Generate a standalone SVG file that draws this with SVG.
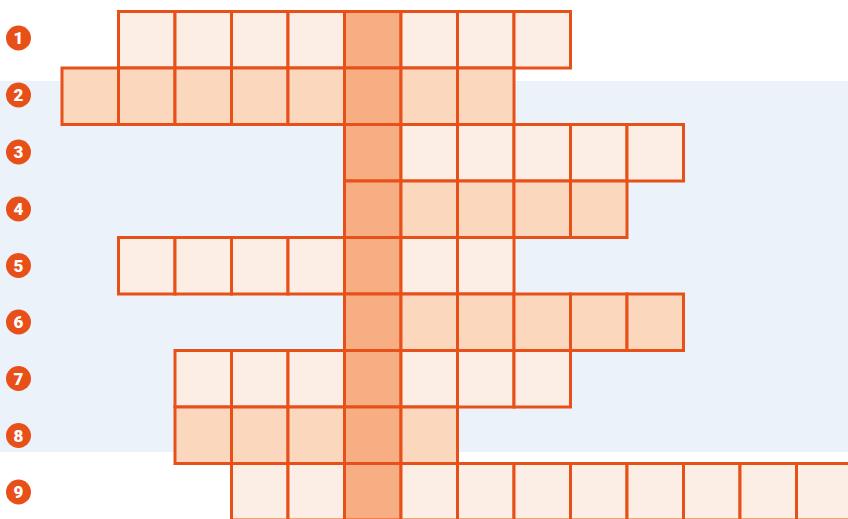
<svg xmlns="http://www.w3.org/2000/svg" width="848" height="519" viewBox="0 0 848 519">
<style>
.c{stroke:#E8501A;stroke-width:3}
.l{fill:#FDEEE5}
.d{fill:#FBD7BE}
.h{fill:#F7AE82}
.n circle{fill:#E8501A}
.n text{fill:#fff;font-family:"Roboto","Liberation Sans",sans-serif;font-weight:900;font-size:17px;text-anchor:middle}
</style>
<rect width="848" height="519" fill="#fff"/>
<rect x="0" y="81" width="848" height="371" fill="#EBF2FA"/>
<g id="row1">
<rect class="c l" x="118.5" y="11.5" width="56.5" height="56.5"/><rect class="c l" x="175" y="11.5" width="56.5" height="56.5"/><rect class="c l" x="231.5" y="11.5" width="56.5" height="56.5"/><rect class="c l" x="288" y="11.5" width="56.5" height="56.5"/><rect class="c h" x="344.5" y="11.5" width="56.5" height="56.5"/><rect class="c l" x="401" y="11.5" width="56.5" height="56.5"/><rect class="c l" x="457.5" y="11.5" width="56.5" height="56.5"/><rect class="c l" x="514" y="11.5" width="56.5" height="56.5"/>
</g>
<g id="row2">
<rect class="c d" x="62" y="68" width="56.5" height="56.5"/><rect class="c d" x="118.5" y="68" width="56.5" height="56.5"/><rect class="c d" x="175" y="68" width="56.5" height="56.5"/><rect class="c d" x="231.5" y="68" width="56.5" height="56.5"/><rect class="c d" x="288" y="68" width="56.5" height="56.5"/><rect class="c h" x="344.5" y="68" width="56.5" height="56.5"/><rect class="c d" x="401" y="68" width="56.5" height="56.5"/><rect class="c d" x="457.5" y="68" width="56.5" height="56.5"/>
</g>
<g id="row3">
<rect class="c h" x="344.5" y="124.5" width="56.5" height="56.5"/><rect class="c l" x="401" y="124.5" width="56.5" height="56.5"/><rect class="c l" x="457.5" y="124.5" width="56.5" height="56.5"/><rect class="c l" x="514" y="124.5" width="56.5" height="56.5"/><rect class="c l" x="570.5" y="124.5" width="56.5" height="56.5"/><rect class="c l" x="627" y="124.5" width="56.5" height="56.5"/>
</g>
<g id="row4">
<rect class="c h" x="344.5" y="181" width="56.5" height="56.5"/><rect class="c d" x="401" y="181" width="56.5" height="56.5"/><rect class="c d" x="457.5" y="181" width="56.5" height="56.5"/><rect class="c d" x="514" y="181" width="56.5" height="56.5"/><rect class="c d" x="570.5" y="181" width="56.5" height="56.5"/>
</g>
<g id="row5">
<rect class="c l" x="118.5" y="237.5" width="56.5" height="56.5"/><rect class="c l" x="175" y="237.5" width="56.5" height="56.5"/><rect class="c l" x="231.5" y="237.5" width="56.5" height="56.5"/><rect class="c l" x="288" y="237.5" width="56.5" height="56.5"/><rect class="c h" x="344.5" y="237.5" width="56.5" height="56.5"/><rect class="c l" x="401" y="237.5" width="56.5" height="56.5"/><rect class="c l" x="457.5" y="237.5" width="56.5" height="56.5"/>
</g>
<g id="row6">
<rect class="c h" x="344.5" y="294" width="56.5" height="56.5"/><rect class="c d" x="401" y="294" width="56.5" height="56.5"/><rect class="c d" x="457.5" y="294" width="56.5" height="56.5"/><rect class="c d" x="514" y="294" width="56.5" height="56.5"/><rect class="c d" x="570.5" y="294" width="56.5" height="56.5"/><rect class="c d" x="627" y="294" width="56.5" height="56.5"/>
</g>
<g id="row7">
<rect class="c l" x="175" y="350.5" width="56.5" height="56.5"/><rect class="c l" x="231.5" y="350.5" width="56.5" height="56.5"/><rect class="c l" x="288" y="350.5" width="56.5" height="56.5"/><rect class="c h" x="344.5" y="350.5" width="56.5" height="56.5"/><rect class="c l" x="401" y="350.5" width="56.5" height="56.5"/><rect class="c l" x="457.5" y="350.5" width="56.5" height="56.5"/><rect class="c l" x="514" y="350.5" width="56.5" height="56.5"/>
</g>
<g id="row8">
<rect class="c d" x="175" y="407" width="56.5" height="56.5"/><rect class="c d" x="231.5" y="407" width="56.5" height="56.5"/><rect class="c d" x="288" y="407" width="56.5" height="56.5"/><rect class="c h" x="344.5" y="407" width="56.5" height="56.5"/><rect class="c d" x="401" y="407" width="56.5" height="56.5"/>
</g>
<g id="row9">
<rect class="c l" x="231.5" y="463.5" width="56.5" height="56.5"/><rect class="c l" x="288" y="463.5" width="56.5" height="56.5"/><rect class="c h" x="344.5" y="463.5" width="56.5" height="56.5"/><rect class="c l" x="401" y="463.5" width="56.5" height="56.5"/><rect class="c l" x="457.5" y="463.5" width="56.5" height="56.5"/><rect class="c l" x="514" y="463.5" width="56.5" height="56.5"/><rect class="c l" x="570.5" y="463.5" width="56.5" height="56.5"/><rect class="c l" x="627" y="463.5" width="56.5" height="56.5"/><rect class="c l" x="683.5" y="463.5" width="56.5" height="56.5"/><rect class="c l" x="740" y="463.5" width="56.5" height="56.5"/><rect class="c l" x="796.5" y="463.5" width="56.5" height="56.5"/>
</g>
<g id="labels" class="n">
<g id="n1"><circle cx="18.5" cy="38" r="12.5"/><text x="18.5" y="44">1</text></g>
<g id="n2"><circle cx="18.5" cy="95" r="12.5"/><text x="18.5" y="101">2</text></g>
<g id="n3"><circle cx="18.5" cy="152" r="12.5"/><text x="18.5" y="158">3</text></g>
<g id="n4"><circle cx="18.5" cy="209" r="12.5"/><text x="18.5" y="215">4</text></g>
<g id="n5"><circle cx="18.5" cy="265.5" r="12.5"/><text x="18.5" y="271.5">5</text></g>
<g id="n6"><circle cx="18.5" cy="322" r="12.5"/><text x="18.5" y="328">6</text></g>
<g id="n7"><circle cx="18.5" cy="378.5" r="12.5"/><text x="18.5" y="384.5">7</text></g>
<g id="n8"><circle cx="18.5" cy="435.5" r="12.5"/><text x="18.5" y="441.5">8</text></g>
<g id="n9"><circle cx="18.5" cy="492" r="12.5"/><text x="18.5" y="498">9</text></g>
</g>
</svg>
